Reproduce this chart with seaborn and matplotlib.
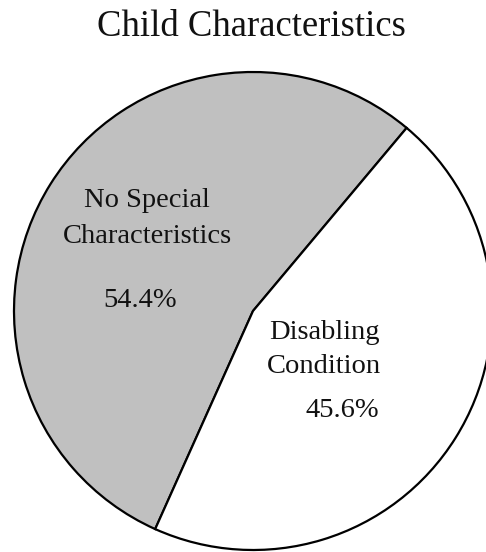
import matplotlib
matplotlib.use("Agg")
import matplotlib.pyplot as plt
import seaborn as sns

categories = ["No Special\nCharacteristics", "Disabling\nCondition"]
values = [54.4, 45.6]
pct_labels = ["54.4%", "45.6%"]
colors = ["#c0c0c0", "#ffffff"]

sns.set_style("white")
plt.rcParams["font.family"] = ["Liberation Serif", "DejaVu Serif"]

W, H = 486, 552
fig = plt.figure(figsize=(W / 100, H / 100), dpi=100)
ax = fig.add_axes([0, 0, 1, 1])

cx, cy, R = 253, 311, 239  # pie centre and radius in pixels

ax.pie(values, colors=colors, startangle=50, counterclock=True,
       wedgeprops=dict(edgecolor="black", linewidth=1.6))
ax.set_aspect("auto")
ax.set_xlim(-cx / R, (W - cx) / R)
ax.set_ylim(-(H - cy) / R, cy / R)
ax.axis("off")


def px(x, y):
    return (x - cx) / R, (cy - y) / R


def put(x, y, s, size=20.5):
    ax.text(*px(x, y), s, ha="center", va="baseline", fontsize=size, color="#111111")


# labels (each line as its own text)
l1 = categories[0].split("\n")
put(147, 207, l1[0])
put(147, 243, l1[1])
put(140, 307, pct_labels[0])

l2 = categories[1].split("\n")
put(324, 339, l2[0])
put(324, 373, l2[1])
put(342, 417, pct_labels[1])

fig.text(251.5 / W, 1 - 36 / H, "Child Characteristics", ha="center",
         va="baseline", fontsize=26.4, color="#111111")

fig.savefig("out.png", dpi=100)
